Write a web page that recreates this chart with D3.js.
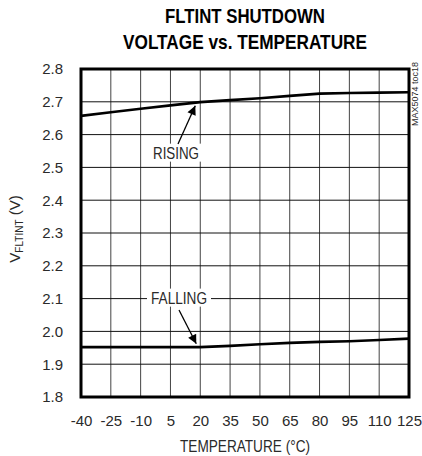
<!DOCTYPE html>
<head>
  <meta charset="utf-8">
  <script src="https://d3js.org/d3.v7.min.js"></script>
  <style>
    body { margin: 0; background: #fff; }
    svg { width: 422px; height: 456px; display: block; }
    text { font-family: "Liberation Sans Narrow", "Liberation Sans", Arial, sans-serif; fill: #2a2a2a; }
  </style>
</head>

<body>
  <svg></svg>

  <script>
    // data
    const temps = [-40, -25, -10, 5, 20, 35, 50, 65, 80, 95, 110, 125];
    const rising = [2.657, 2.668, 2.679, 2.689, 2.699, 2.705, 2.711, 2.718, 2.725, 2.727, 2.728, 2.729];
    const falling = [1.952, 1.952, 1.952, 1.952, 1.952, 1.956, 1.961, 1.965, 1.968, 1.970, 1.974, 1.978];
    const yTicks = [1.8, 1.9, 2.0, 2.1, 2.2, 2.3, 2.4, 2.5, 2.6, 2.7, 2.8];

    const svg = d3.select('svg');
    const x = d3.scaleLinear().domain([-40, 125]).range([81, 409]);
    const y = d3.scaleLinear().domain([1.8, 2.8]).range([397, 69]);
    const font = '"Liberation Sans Narrow", "Liberation Sans", Arial, sans-serif';

    // title
    svg.append('text')
      .attr('x', 245).attr('y', 23)
      .attr('text-anchor', 'middle')
      .attr('font-size', 21).attr('font-weight', 'bold').style('fill', '#000')
      .attr('textLength', 160).attr('lengthAdjust', 'spacingAndGlyphs')
      .text('FLTINT SHUTDOWN');
    svg.append('text')
      .attr('x', 245).attr('y', 49)
      .attr('text-anchor', 'middle')
      .attr('font-size', 21).attr('font-weight', 'bold').style('fill', '#000')
      .attr('textLength', 244).attr('lengthAdjust', 'spacingAndGlyphs')
      .text('VOLTAGE vs. TEMPERATURE');

    // grid
    const grid = svg.append('g');
    grid.selectAll('line.v').data(temps.slice(1, -1)).join('line')
      .attr('x1', d => x(d)).attr('x2', d => x(d))
      .attr('y1', y(2.8)).attr('y2', y(1.8))
      .attr('stroke', '#444').attr('stroke-width', 1);
    grid.selectAll('line.h').data(yTicks.slice(1, -1)).join('line')
      .attr('x1', x(-40)).attr('x2', x(125))
      .attr('y1', d => y(d)).attr('y2', d => y(d))
      .attr('stroke', '#111').attr('stroke-width', 1);

    // tick labels via d3 axes
    const xAxis = svg.append('g')
      .attr('transform', `translate(0,${y(1.8)})`)
      .call(d3.axisBottom(x).tickValues(temps).tickSize(0).tickPadding(18)
        .tickFormat(d => String(d)));
    xAxis.select('.domain').remove();
    xAxis.selectAll('text').attr('font-size', 15).style('fill', '#2a2a2a')
      .style('font-family', font);

    const yAxis = svg.append('g')
      .attr('transform', `translate(${x(-40)},0)`)
      .call(d3.axisLeft(y).tickValues(yTicks).tickSize(0).tickPadding(18).tickFormat(d3.format('.1f')));
    yAxis.select('.domain').remove();
    yAxis.selectAll('text').attr('font-size', 15).style('fill', '#2a2a2a')
      .style('font-family', font);

    // axis titles
    svg.append('text')
      .attr('x', 245).attr('y', 452)
      .attr('text-anchor', 'middle').attr('font-size', 16)
      .attr('textLength', 130).attr('lengthAdjust', 'spacingAndGlyphs')
      .text('TEMPERATURE (°C)');
    const yt = svg.append('text')
      .attr('transform', 'translate(20,229) rotate(-90)')
      .attr('text-anchor', 'middle').attr('font-size', 15);
    yt.append('tspan').text('V');
    yt.append('tspan').attr('font-size', 10).attr('dy', 3).text('FLTINT');
    yt.append('tspan').attr('dy', -3).text(' (V)');

    // watermark
    svg.append('text')
      .attr('transform', 'translate(418,94) rotate(-90)')
      .attr('text-anchor', 'middle').attr('font-size', 9)
      .text('MAX5074 toc18');

    // labels with white boxes over the grid
    function label(txt, cx, cy, w) {
      svg.append('rect')
        .attr('x', cx - w / 2 - 4).attr('y', cy - 9).attr('width', w + 8).attr('height', 18)
        .attr('fill', '#fff');
      svg.append('text')
        .attr('x', cx).attr('y', cy + 6)
        .attr('text-anchor', 'middle').attr('font-size', 17)
        .attr('textLength', w).attr('lengthAdjust', 'spacingAndGlyphs')
        .text(txt);
    }
    label('RISING', 176, y(2.545), 46);
    label('FALLING', 179, y(2.103), 56);

    // series lines
    const line = d3.line().x((d, i) => x(temps[i])).y(d => y(d));
    [rising, falling].forEach(s => {
      svg.append('path').datum(s)
        .attr('d', line)
        .attr('fill', 'none').attr('stroke', '#000').attr('stroke-width', 2.6);
    });

    // arrows
    svg.append('defs').append('marker')
      .attr('id', 'ah').attr('viewBox', '0 0 10 10')
      .attr('refX', 10).attr('refY', 5)
      .attr('markerWidth', 12).attr('markerHeight', 9)
      .attr('markerUnits', 'userSpaceOnUse')
      .attr('orient', 'auto')
      .append('path').attr('d', 'M0,0 L10,5 L0,10 z').attr('fill', '#000');
    function arrow(x1, y1, x2, y2) {
      svg.append('line')
        .attr('x1', x1).attr('y1', y1).attr('x2', x2).attr('y2', y2)
        .attr('stroke', '#000').attr('stroke-width', 1.3)
        .attr('marker-end', 'url(#ah)');
    }
    arrow(178, 144, x(20) - 5, y(2.697) + 3);
    arrow(179, 310, x(20) - 4, y(1.953) - 3);

    // frame
    svg.append('rect')
      .attr('x', x(-40)).attr('y', y(2.8))
      .attr('width', x(125) - x(-40)).attr('height', y(1.8) - y(2.8))
      .attr('fill', 'none').attr('stroke', '#000').attr('stroke-width', 3);
  </script>
</body>
